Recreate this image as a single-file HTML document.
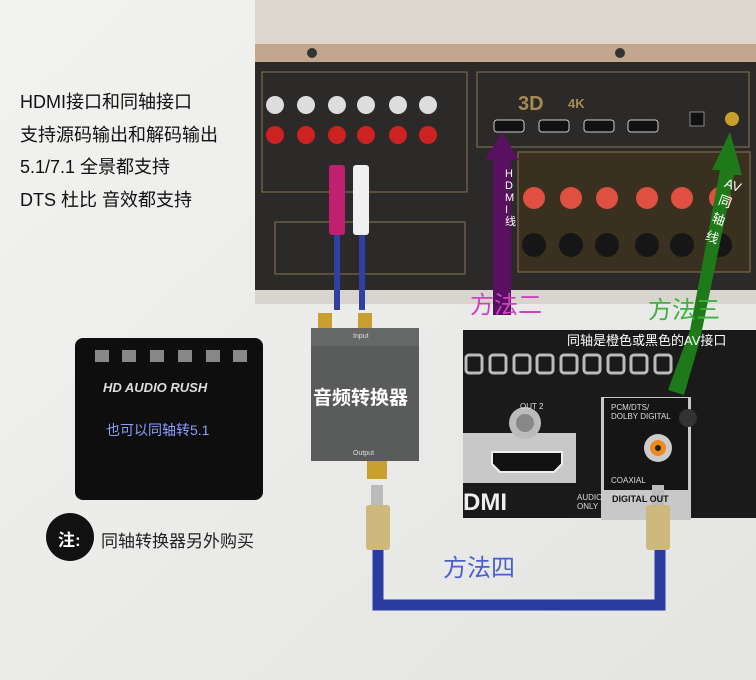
<!DOCTYPE html><html><head><meta charset="utf-8"><style>
body{margin:0;width:756px;height:680px;overflow:hidden;background:#ececea;font-family:"Liberation Sans","Noto Sans CJK SC",sans-serif;position:relative}
.a{position:absolute;white-space:nowrap}
</style></head><body>
<svg class="a" style="left:0;top:0" width="756" height="680">
<defs><linearGradient id="bg" x1="0" y1="0" x2="1" y2="1"><stop offset="0" stop-color="#f2f2f0"/><stop offset="1" stop-color="#e4e4e2"/></linearGradient></defs>
<rect width="756" height="680" fill="url(#bg)"/>
<!-- receiver -->
<rect x="255" y="0" width="501" height="46" fill="#ddd6cc"/>
<rect x="255" y="44" width="501" height="18" fill="#c2a68e"/>
<circle cx="312" cy="53" r="5" fill="#333"/><circle cx="620" cy="53" r="5" fill="#333"/>
<rect x="255" y="62" width="501" height="230" fill="#2b2a28"/>
<rect x="262" y="72" width="205" height="120" fill="none" stroke="#8a7550"/>
<rect x="477" y="72" width="272" height="75" fill="none" stroke="#8a7550"/>
<rect x="518" y="152" width="232" height="120" fill="#3a3020" stroke="#8a7550"/>
<rect x="275" y="222" width="190" height="52" fill="none" stroke="#8a7550"/>
<g fill="#ddd"><circle cx="275" cy="105" r="9"/><circle cx="306" cy="105" r="9"/><circle cx="337" cy="105" r="9"/><circle cx="366" cy="105" r="9"/><circle cx="398" cy="105" r="9"/><circle cx="428" cy="105" r="9"/></g>
<g fill="#c22"><circle cx="275" cy="135" r="9"/><circle cx="306" cy="135" r="9"/><circle cx="337" cy="135" r="9"/><circle cx="366" cy="135" r="9"/><circle cx="398" cy="135" r="9"/><circle cx="428" cy="135" r="9"/></g>
<g fill="#111" stroke="#ccc"><rect x="494" y="120" width="30" height="12" rx="3"/><rect x="539" y="120" width="30" height="12" rx="3"/><rect x="584" y="120" width="30" height="12" rx="3"/><rect x="628" y="120" width="30" height="12" rx="3"/></g>
<text x="518" y="110" fill="#a88a50" font-size="20" font-weight="bold">3D</text><text x="568" y="108" fill="#a88a50" font-size="13" font-weight="bold">4K</text>
<rect x="690" y="112" width="14" height="14" fill="#111" stroke="#888"/><circle cx="732" cy="119" r="7" fill="#c9a030"/>
<g fill="#e05040"><circle cx="534" cy="198" r="11"/><circle cx="571" cy="198" r="11"/><circle cx="607" cy="198" r="11"/><circle cx="647" cy="198" r="11"/><circle cx="682" cy="198" r="11"/><circle cx="720" cy="198" r="11"/></g>
<g fill="#161616"><circle cx="534" cy="245" r="12"/><circle cx="571" cy="245" r="12"/><circle cx="607" cy="245" r="12"/><circle cx="647" cy="245" r="12"/><circle cx="682" cy="245" r="12"/><circle cx="720" cy="245" r="12"/></g>
<rect x="255" y="290" width="501" height="14" fill="#d8d4ce"/>
<!-- rca cables -->
<rect x="334" y="195" width="6" height="115" fill="#3040a0"/><rect x="359" y="195" width="6" height="115" fill="#3040a0"/>
<rect x="329" y="165" width="16" height="70" fill="#c02070" rx="3"/><rect x="353" y="165" width="16" height="70" fill="#f0f0f0" rx="3"/>
<!-- converter -->
<rect x="318" y="313" width="14" height="20" fill="#c9a030"/><rect x="358" y="313" width="14" height="20" fill="#c9a030"/>
<rect x="311" y="328" width="108" height="133" fill="#5a5c5b"/>
<rect x="311" y="328" width="108" height="18" fill="#666867"/>
<rect x="367" y="461" width="20" height="18" fill="#c9a030"/>
<!-- blu-ray player -->
<rect x="463" y="330" width="293" height="188" fill="#1a1a1a"/>
<g fill="none" stroke="#bbb" stroke-width="3"><rect x="466" y="355" width="16" height="18" rx="3"/><rect x="490" y="355" width="16" height="18" rx="3"/><rect x="514" y="355" width="16" height="18" rx="3"/><rect x="537" y="355" width="16" height="18" rx="3"/><rect x="561" y="355" width="16" height="18" rx="3"/><rect x="584" y="355" width="16" height="18" rx="3"/><rect x="608" y="355" width="16" height="18" rx="3"/><rect x="631" y="355" width="16" height="18" rx="3"/><rect x="655" y="355" width="16" height="18" rx="3"/></g>
<rect x="463" y="433" width="113" height="50" fill="#c8c8c8"/>
<circle cx="525" cy="423" r="16" fill="#bbb"/><circle cx="525" cy="423" r="9" fill="#888"/>
<path d="M492 452h70v12l-8 8h-54l-8-8z" fill="#111" stroke="#eee" stroke-width="2"/>
<rect x="601" y="397" width="90" height="123" fill="#c8c8c8"/><rect x="604" y="398" width="84" height="92" fill="#151515"/>
<circle cx="658" cy="448" r="14" fill="#ccc"/><circle cx="658" cy="448" r="8" fill="#f08a20"/><circle cx="658" cy="448" r="3" fill="#222"/>
<circle cx="688" cy="418" r="9" fill="#333"/>
<text x="463" y="510" fill="#eee" font-size="24" font-weight="bold">DMI</text>
<!-- blue cable -->
<path d="M378 540V605H660V540" fill="none" stroke="#2a3ca0" stroke-width="11"/>
<rect x="366" y="505" width="24" height="45" fill="#cdb97c" rx="3"/><rect x="371" y="485" width="12" height="20" fill="#bbb"/>
<rect x="646" y="505" width="24" height="45" fill="#cdb97c" rx="3"/><rect x="652" y="485" width="12" height="20" fill="#bbb"/>
<!-- arrows -->
<path d="M493 315V160H485L502 132L519 160H511V315Z" fill="#5a1060"/>
<path d="M668 390L690 330L720 170H712L730 132L742 175H734L700 340L684 395Z" fill="#1e7a18"/>
<!-- decoder -->
<rect x="75" y="338" width="188" height="162" rx="8" fill="#0e0e0e"/>
<g fill="#888"><rect x="95" y="350" width="14" height="12"/><rect x="122" y="350" width="14" height="12"/><rect x="150" y="350" width="14" height="12"/><rect x="178" y="350" width="14" height="12"/><rect x="206" y="350" width="14" height="12"/><rect x="233" y="350" width="14" height="12"/></g>
<circle cx="70" cy="537" r="24" fill="#111"/>
</svg>
<div class="a" style="left:20px;top:86px;font-size:18px;line-height:32.5px;color:#111">HDMI接口和同轴接口<br>支持源码输出和解码输出<br>5.1/7.1 全景都支持<br>DTS 杜比 音效都支持</div>
<div class="a" style="left:313px;top:383px;font-size:19px;font-weight:bold;color:#fff">音频转换器</div>
<div class="a" style="left:353px;top:333px;font-size:7px;color:#ddd">Input</div>
<div class="a" style="left:353px;top:450px;font-size:7px;color:#ddd">Output</div>
<div class="a" style="left:103px;top:380px;font-size:13px;font-weight:bold;color:#ddd;font-style:italic">HD AUDIO RUSH</div>
<div class="a" style="left:106px;top:420px;font-size:14px;color:#8aa0ff">也可以同轴转5.1</div>
<div class="a" style="left:58px;top:526px;font-size:17px;font-weight:bold;color:#fff">注:</div>
<div class="a" style="left:101px;top:527px;font-size:17px;color:#222">同轴转换器另外购买</div>
<div class="a" style="left:470px;top:285px;font-size:24px;color:#d040c0">方法二</div>
<div class="a" style="left:648px;top:290px;font-size:24px;color:#40b040">方法三</div>
<div class="a" style="left:443px;top:548px;font-size:24px;color:#4a60d0">方法四</div>
<div class="a" style="left:567px;top:330px;font-size:13px;color:#fff">同轴是橙色或黑色的AV接口</div>
<div class="a" style="left:520px;top:402px;font-size:8px;color:#ddd">OUT 2</div>
<div class="a" style="left:611px;top:403px;font-size:8px;color:#ddd;line-height:9px">PCM/DTS/<br>DOLBY DIGITAL</div>
<div class="a" style="left:611px;top:476px;font-size:8px;color:#ddd">COAXIAL</div>
<div class="a" style="left:612px;top:494px;font-size:9px;color:#111;font-weight:bold">DIGITAL OUT</div>
<div class="a" style="left:577px;top:493px;font-size:8px;color:#ddd;line-height:9px">AUDIO<br>ONLY</div>
<div class="a" style="left:505px;top:168px;font-size:11px;color:#fff;width:10px;white-space:normal;line-height:12px">H D M I 线</div>
<div class="a" style="left:715px;top:176px;font-size:13px;color:#fff;transform:rotate(20deg)">AV<br>同<br>轴<br>线</div>
</body></html>
